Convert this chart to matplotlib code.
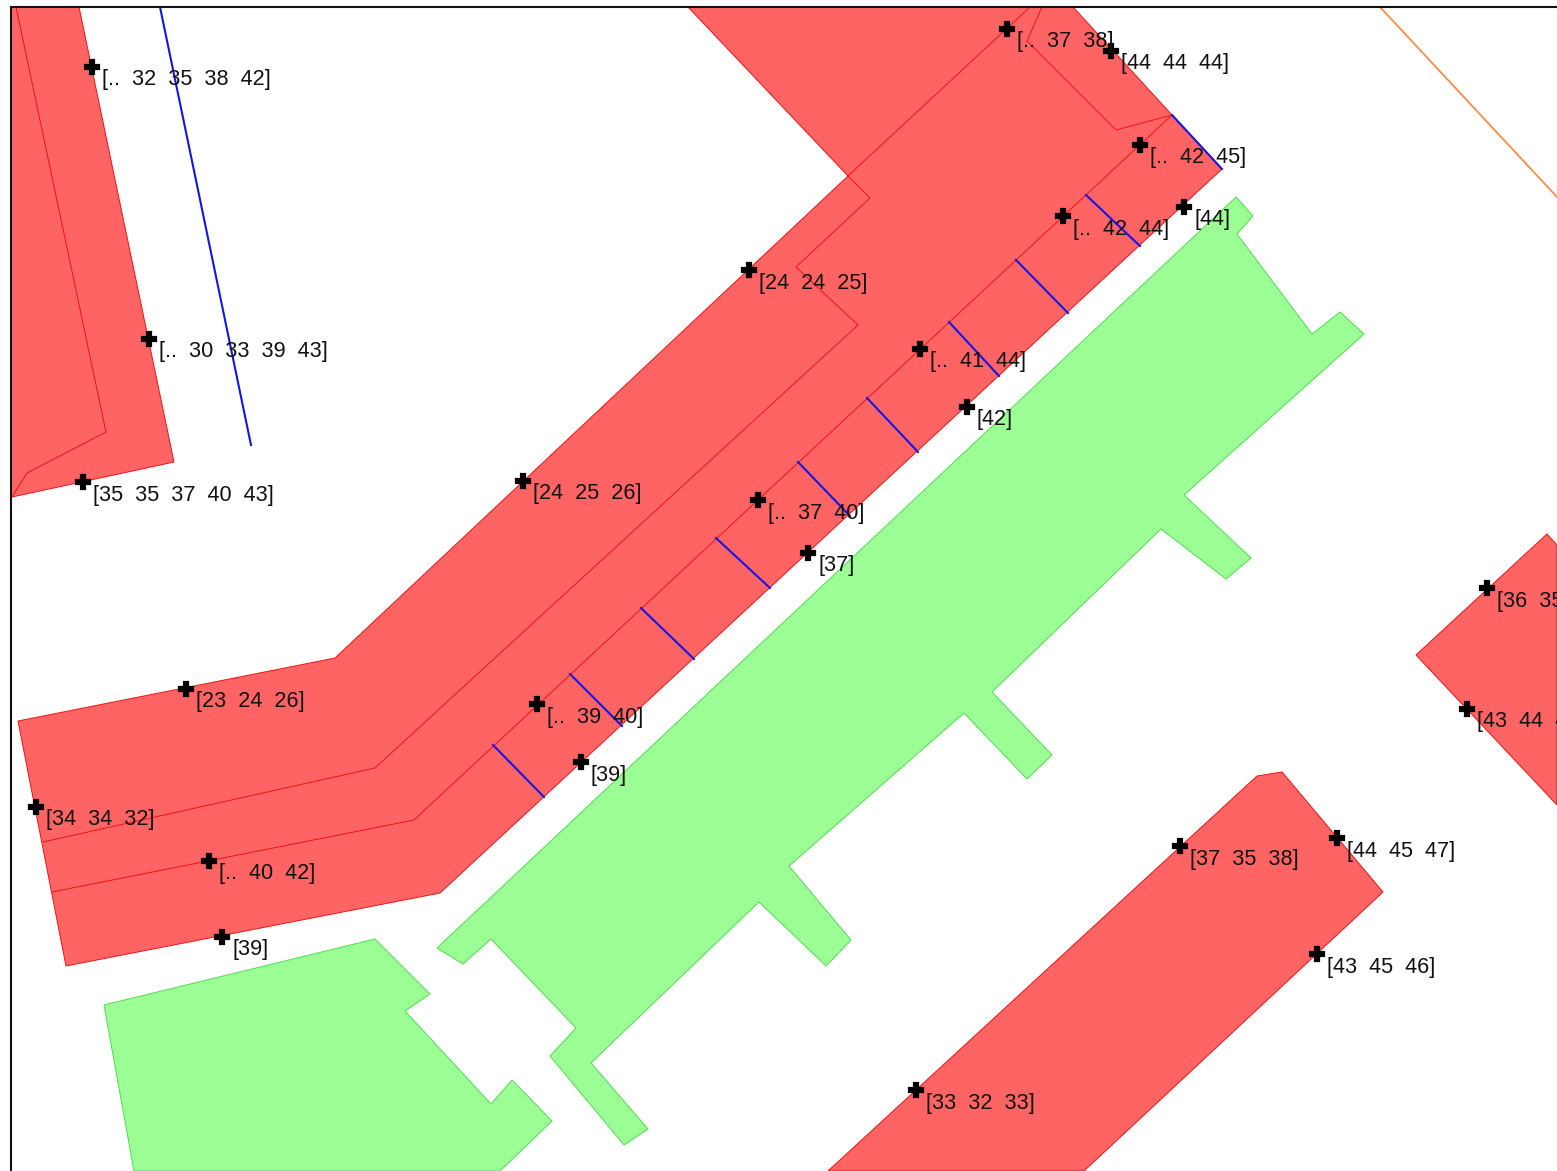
import matplotlib
matplotlib.use("Agg")
import matplotlib.pyplot as plt
from matplotlib.patches import Polygon

plt.rcParams['font.family'] = ['Liberation Sans', 'DejaVu Sans']

W, H = 1557, 1171
X0, Y0 = 11, 7

RED_FILL = '#FF6464'
RED_EDGE = '#EE1414'
GREEN_FILL = '#9CFF96'
GREEN_EDGE = '#50DC50'
BLUE = '#1414E6'
ORANGE = '#FF8C46'

red_main = [(688, 7), (848, 176), (335, 658), (18, 721), (66, 966), (440, 893),
            (1222, 169), (1172, 115), (1073, 7)]
red_left = [(11, 7), (79, 7), (174, 462), (12, 497), (11, 497)]
red_bottom = [(828, 1171), (1257, 776), (1282, 772), (1383, 892), (1084, 1171)]
red_right = [(1547, 534), (1416, 655), (1557, 805), (1557, 545)]
red_polys = [red_main, red_left, red_bottom, red_right]

green_big = [(1236, 197), (1253, 216), (1237, 234), (1312, 334), (1340, 312), (1364, 334),
             (1184, 495), (1251, 558), (1226, 579), (1161, 529), (992, 692), (1052, 755),
             (1027, 779), (964, 713), (789, 866), (851, 940), (826, 966), (759, 902),
             (591, 1063), (648, 1129), (624, 1145), (550, 1056), (576, 1028), (491, 939),
             (463, 964), (437, 948)]
green_small = [(104, 1005), (375, 939), (430, 994), (405, 1011), (491, 1104), (512, 1080),
               (552, 1121), (500, 1171), (134, 1171)]
green_polys = [green_big, green_small]

inner_lines = [
    [(848, 176), (1030, 7)],
    [(1042, 7), (1027, 41), (1116, 130), (1172, 115)],
    [(1172, 115), (414, 820), (52, 892)],
    [(43, 842), (375, 768), (858, 325), (796, 267), (870, 198), (848, 176)],
    [(16, 7), (106, 432), (27, 473), (12, 497)],
]

blue_lines = [
    [(160, 7), (251, 445)],
    [(1172, 115), (1222, 169)],
    [(1086, 195), (1140, 246)],
    [(1016, 260), (1068, 313)],
    [(949, 322), (999, 376)],
    [(867, 398), (918, 452)],
    [(798, 462), (850, 516)],
    [(716, 538), (770, 588)],
    [(641, 608), (694, 659)],
    [(570, 674), (622, 726)],
    [(493, 745), (544, 797)],
]
orange_line = [(1380, 7), (1557, 197)]

point_x = [92, 149, 83, 1007, 1111, 1140, 1184, 1063, 749, 920, 967, 523, 758, 808,
           1487, 1467, 186, 537, 581, 36, 209, 222, 1180, 1337, 1317, 916]
point_y = [67, 339, 482, 29, 51, 145, 207, 216, 270, 349, 407, 481, 500, 553,
           588, 709, 689, 704, 762, 807, 861, 937, 846, 838, 954, 1090]
point_labels = ['[..  32  35  38  42]', '[..  30  33  39  43]', '[35  35  37  40  43]',
                '[..  37  38]', '[44  44  44]', '[..  42  45]', '[44]', '[..  42  44]',
                '[24  24  25]', '[..  41  44]', '[42]', '[24  25  26]', '[..  37  40]',
                '[37]', '[36  35  37]', '[43  44  45]', '[23  24  26]', '[..  39  40]',
                '[39]', '[34  34  32]', '[..  40  42]', '[39]', '[37  35  38]',
                '[44  45  47]', '[43  45  46]', '[33  32  33]']

fig = plt.figure(figsize=(W / 100, H / 100), dpi=100, facecolor='white')
ax = fig.add_axes([X0 / W, 0, (W - X0) / W, (H - Y0) / H])
ax.set_xlim(X0, W)
ax.set_ylim(H, Y0)
ax.set_xticks([])
ax.set_yticks([])
for side in ('right', 'bottom'):
    ax.spines[side].set_visible(False)
for side in ('left', 'top'):
    ax.spines[side].set_linewidth(1.5)
    ax.spines[side].set_color('#111111')

for poly in red_polys:
    ax.add_patch(Polygon(poly, closed=True, facecolor=RED_FILL, edgecolor=RED_EDGE, linewidth=0.7))
for poly in green_polys:
    ax.add_patch(Polygon(poly, closed=True, facecolor=GREEN_FILL, edgecolor=GREEN_EDGE, linewidth=0.7))
for line in inner_lines:
    ax.plot(*zip(*line), color=RED_EDGE, lw=0.7, solid_joinstyle='miter')
for line in blue_lines:
    ax.plot(*zip(*line), color=BLUE, lw=1.5)
ax.plot(*zip(*orange_line), color=ORANGE, lw=1.3)

ax.plot(point_x, point_y, linestyle='none', marker='P', ms=9.5, color='black',
        mec='black', mew=1.6, zorder=5)
for x, y, s in zip(point_x, point_y, point_labels):
    ax.text(x + 10, y + 13, s, fontsize=15.6, va='center', ha='left', color='#111111',
            clip_on=True, zorder=6)

fig.savefig('out.png', dpi=100)
